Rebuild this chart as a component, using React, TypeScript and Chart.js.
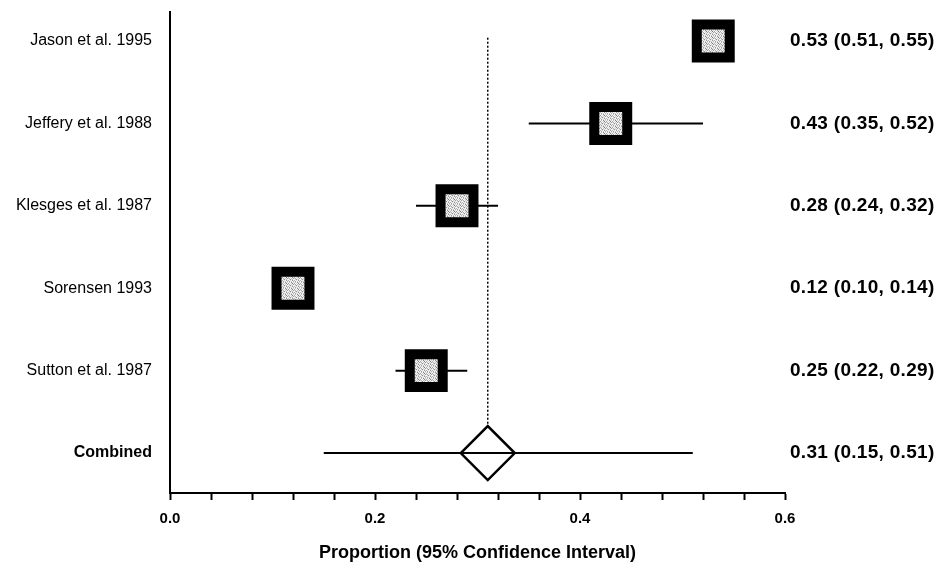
import React, { useEffect, useRef } from "react";
import { Chart, registerables } from "chart.js";

Chart.register(...registerables);

const studies = ["Jason et al. 1995", "Jeffery et al. 1988", "Klesges et al. 1987", "Sorensen 1993", "Sutton et al. 1987", "Combined"];
const estimates = [0.53, 0.43, 0.28, 0.12, 0.25];
const lower = [0.51, 0.35, 0.24, 0.10, 0.22];
const upper = [0.55, 0.52, 0.32, 0.14, 0.29];
const combinedEstimate = 0.31;
const combinedLower = 0.15;
const combinedUpper = 0.51;
const rightLabels = [
  "0.53 (0.51, 0.55)",
  "0.43 (0.35, 0.52)",
  "0.28 (0.24, 0.32)",
  "0.12 (0.10, 0.14)",
  "0.25 (0.22, 0.29)",
  "0.31 (0.15, 0.51)",
];
const xTickValues = Array.from({ length: 16 }, (_, i) => i / 25);
const xTickLabels = ["0.0", "0.2", "0.4", "0.6"];

const FONT = "'Liberation Sans', Arial, Helvetica, sans-serif";

function makePattern(): CanvasPattern | string {
  const c = document.createElement("canvas");
  c.width = 6;
  c.height = 6;
  const g = c.getContext("2d");
  if (!g) return "#cccccc";
  const shades = [
    "#f0f0f0", "#bdbdbd", "#fafafa", "#8a8a8a", "#e6e6e6", "#d8d8d8",
    "#a8a8a8", "#f8f8f8", "#dfdfdf", "#ececec", "#7f7f7f", "#f4f4f4",
    "#e2e2e2", "#b0b0b0", "#fcfcfc", "#cacaca", "#f2f2f2", "#9a9a9a",
    "#fbfbfb", "#d2d2d2", "#8e8e8e", "#eaeaea", "#c0c0c0", "#f7f7f7",
    "#b4b4b4", "#eeeeee", "#dcdcdc", "#f9f9f9", "#969696", "#e4e4e4",
    "#f5f5f5", "#a4a4a4", "#ebebeb", "#cccccc", "#fafafa", "#b2b2b2",
  ];
  for (let i = 0; i < 36; i++) {
    g.fillStyle = shades[i];
    g.fillRect(i % 6, Math.floor(i / 6), 1, 1);
  }
  return g.createPattern(c, "repeat") || "#cccccc";
}

const rightLabelPlugin = {
  id: "rightLabels",
  afterDraw(chart: any) {
    const { ctx, chartArea, scales } = chart;
    ctx.save();
    ctx.fillStyle = "#000";
    ctx.font = `bold 19px ${FONT}`;
    try {
      (ctx as any).letterSpacing = "0.3px";
    } catch (e) {}
    ctx.textAlign = "left";
    ctx.textBaseline = "middle";
    rightLabels.forEach((t, i) => {
      ctx.fillText(t, chartArea.right + 5, scales.y.getPixelForValue(i));
    });
    ctx.restore();
  },
};

export default function App() {
  const ref = useRef<HTMLCanvasElement>(null);

  useEffect(() => {
    if (!ref.current) return;
    const fill = makePattern();
    const datasets: any[] = [];

    estimates.forEach((_, i) => {
      datasets.push({
        data: [
          { x: lower[i], y: i },
          { x: upper[i], y: i },
        ],
        showLine: true,
        borderColor: "#000",
        borderWidth: 2,
        pointRadius: 0,
        order: 5,
      });
    });

    datasets.push({
      data: [
        { x: combinedEstimate, y: -0.04 },
        { x: combinedEstimate, y: 5 },
      ],
      showLine: true,
      borderColor: "#000",
      borderWidth: 1.5,
      borderDash: [2, 2],
      pointRadius: 0,
      order: 6,
    });

    datasets.push({
      data: [{ x: combinedEstimate, y: 5 }],
      pointStyle: "rectRot",
      pointRadius: 27,
      backgroundColor: "#fff",
      borderColor: "#000",
      borderWidth: 2.5,
      order: 4,
    });

    datasets.push({
      data: [
        { x: combinedLower, y: 5 },
        { x: combinedUpper, y: 5 },
      ],
      showLine: true,
      borderColor: "#000",
      borderWidth: 2,
      pointRadius: 0,
      order: 3,
    });

    datasets.push({
      data: estimates.map((v, i) => ({ x: v, y: i })),
      pointStyle: "rect",
      pointRadius: 23.3,
      backgroundColor: fill,
      borderColor: "#000",
      borderWidth: 10,
      order: 1,
    });

    const chart = new Chart(ref.current, {
      type: "scatter",
      data: { datasets },
      options: {
        animation: false,
        responsive: false,
        maintainAspectRatio: false,
        layout: { autoPadding: false, padding: { top: 12, right: 152, left: 0, bottom: 0 } },
        plugins: {
          legend: { display: false },
          tooltip: { enabled: false },
        },
        scales: {
          x: {
            type: "linear",
            min: 0,
            max: 0.6,
            afterBuildTicks: (s: any) => {
              s.ticks = xTickValues.map((v) => ({ value: v }));
            },
            afterFit: (s: any) => {
              s.height = 76;
              s.paddingLeft = 0;
              s.paddingRight = 0;
            },
            ticks: {
              autoSkip: false,
              maxRotation: 0,
              padding: 10,
              color: "#000",
              font: { family: FONT, size: 15, weight: "bold" },
              callback: (_v: any, idx: number) => (idx % 5 === 0 ? xTickLabels[idx / 5] : ""),
            },
            grid: {
              display: true,
              drawOnChartArea: false,
              drawTicks: true,
              tickLength: 7,
              tickWidth: 2,
              tickColor: "#000",
            },
            border: { display: true, color: "#000", width: 2 },
            title: {
              display: true,
              text: "Proportion (95% Confidence Interval)",
              color: "#000",
              font: { family: FONT, size: 18, weight: "bold" },
              padding: { top: 5, bottom: 5 },
            },
          },
          y: {
            type: "linear",
            reverse: true,
            min: -0.352,
            max: 5.485,
            afterBuildTicks: (s: any) => {
              s.ticks = studies.map((_, i) => ({ value: i }));
            },
            afterFit: (s: any) => {
              s.width = 170;
              s.paddingTop = 0;
              s.paddingBottom = 0;
            },
            ticks: {
              autoSkip: false,
              padding: 18,
              color: "#000",
              font: (c: any) => ({ family: FONT, size: 16, weight: c.index === 5 ? "bold" : "normal" }),
              callback: (_v: any, idx: number) => studies[idx],
            },
            grid: { display: true, drawOnChartArea: false, drawTicks: false },
            border: { display: true, color: "#000", width: 2 },
          },
        },
      },
      plugins: [rightLabelPlugin],
    } as any);
    return () => chart.destroy();
  }, []);

  return (
    <div style={{ position: "absolute", left: 0, top: 0, width: 937, height: 569, background: "#fff" }}>
      <canvas ref={ref} width={937} height={569} style={{ width: 937, height: 569 }} />
    </div>
  );
}
